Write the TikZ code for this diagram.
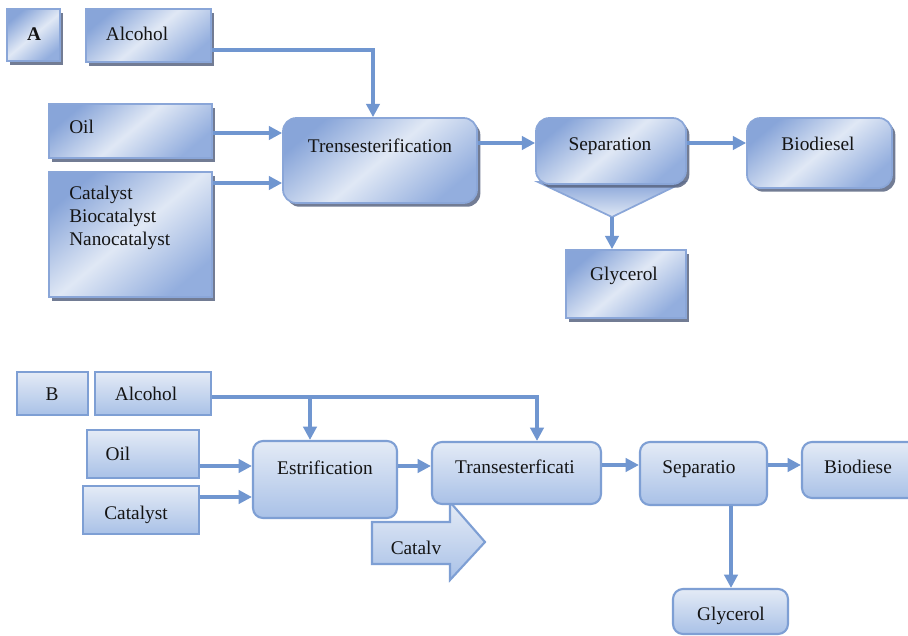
\documentclass[tikz,border=0pt]{standalone}
\usepackage{fontspec}
\setmainfont{Liberation Serif}
\usetikzlibrary{arrows.meta,fit,shadows,calc}

\definecolor{flow}{HTML}{7096D0}
\definecolor{edgeA}{HTML}{8AA6D8}
\definecolor{edgeB}{HTML}{7E9FD4}
\definecolor{darkA}{HTML}{88A5D9}
\definecolor{darkA2}{HTML}{93AEDE}
\definecolor{lightA}{HTML}{E0E8F5}
\definecolor{shadowA}{HTML}{5A6682}
\definecolor{topB}{HTML}{E4EBF6}
\definecolor{botB}{HTML}{A9C1E7}
\definecolor{ink}{HTML}{141414}

\begin{document}
\begin{tikzpicture}[x=0.75pt,y=-0.75pt,
  txt/.style={font=\fontsize{14.5}{17.25}\selectfont, text=ink, inner sep=0pt,
              text height=9.6pt, text depth=0pt},
  txtml/.style={font=\fontsize{14.5}{17.25}\selectfont, text=ink, inner sep=0pt, align=left},
  boxa/.style={draw=edgeA, line width=1.3pt, inner sep=0pt,
               top color=darkA, bottom color=darkA2, middle color=lightA, shading angle=40,
               drop shadow={shadow xshift=2.5pt, shadow yshift=-2.8pt, fill=shadowA, opacity=0.85}},
  roundA/.style={boxa, rounded corners=10pt},
  boxb/.style={draw=edgeB, line width=1.6pt, inner sep=0pt, top color=topB, bottom color=botB},
  roundB/.style={boxb, rounded corners=7.5pt},
  arr/.style={draw=flow, line width=2.4pt, -{Triangle[length=10pt,width=10pt]}}
]
\useasboundingbox (0,0) rectangle (908,636);
\fill[white] (0,0) rectangle (908,636);
\clip (0,0) rectangle (908,636);

% ---------------- Scheme A: direct transesterification ----------------
\node[boxa, fit={(7,9) (60,61)}] (labA) {};
\node[txt, font=\fontsize{14.5}{17.25}\selectfont\bfseries] (labAt) at (34,34) {A};

\node[boxa, fit={(86,9) (211,62)}] (alcA) {};
\node[txt] (alcAt) at (137,34) {Alcohol};

\node[boxa, fit={(49,104) (212,158)}] (oilA) {};
\node[txt, anchor=west] (oilAt) at (69,127) {Oil};

\node[boxa, fit={(49,172) (212,297)}] (catA) {};
\node[txtml, anchor=west] (catAt) at (69,218) {Catalyst\\Biocatalyst\\Nanocatalyst};

\node[roundA, fit={(283,118) (477,203)}] (trA) {};
\node[txt] (trAt) at (380,146) {Trensesterification};

% separator with its funnel outlet
\coordinate (funL) at (538,182);
\coordinate (funR) at (684,182);
\coordinate (funTip) at (612,217);
\path[draw=edgeA, line width=1.3pt, top color=darkA, bottom color=lightA]
  (funL) -- (funR) -- (funTip) -- cycle;
\node[roundA, fit={(536,118) (686,184)}] (sepA) {};
\node[txt] (sepAt) at (610,144) {Separation};

\node[roundA, fit={(747,118) (892,188)}] (bioA) {};
\node[txt] (bioAt) at (818,144) {Biodiesel};

\node[boxa, fit={(566,250) (686,318)}] (glyA) {};
\node[txt] (glyAt) at (624,274) {Glycerol};

\coordinate (alcAbend) at (373,50);
\coordinate (oilAy) at (0,133);
\coordinate (catAy) at (0,183);
\coordinate (mainAy) at (0,143);
\draw[arr] (alcA.east |- alcAbend) -| (trA.north -| alcAbend);
\draw[arr] (oilA.east |- oilAy) -- (trA.west |- oilAy);
\draw[arr] (catA.east |- catAy) -- (trA.west |- catAy);
\draw[arr] (trA.east |- mainAy) -- (sepA.west |- mainAy);
\draw[arr] (sepA.east |- mainAy) -- (bioA.west |- mainAy);
\draw[arr] (funTip) -- (glyA.north -| funTip);

% ---------------- Scheme B: two-step process ----------------
\node[boxb, fit={(17,372) (88,415)}] (labB) {};
\node[txt] (labBt) at (52,394) {B};

\node[boxb, fit={(95,372) (211,415)}] (alcB) {};
\node[txt] (alcBt) at (146,394) {Alcohol};

\node[boxb, fit={(87,430) (199,478)}] (oilB) {};
\node[txt] (oilBt) at (118,454) {Oil};

\node[boxb, fit={(83,486) (199,534)}] (catB) {};
\node[txt] (catBt) at (136,513) {Catalyst};

\node[roundB, fit={(253,441) (397,518)}] (esB) {};
\node[txt] (esBt) at (325,468) {Estrification};

% catalyst feed arrow under the transesterification unit
\path[draw=edgeB, line width=1.6pt, top color=topB, bottom color=botB]
  (372,522) -- (450,522) -- (450,502) -- (485,542) -- (450,580) -- (450,564) -- (372,564) -- cycle;
\node[txt] (catvB) at (416,548) {Catalv};

\node[roundB, fit={(432,442) (601,504)}] (trB) {};
\node[txt] (trBt) at (515,467) {Transesterficati};

\node[roundB, fit={(640,442) (767,505)}] (sepB) {};
\node[txt] (sepBt) at (699,467) {Separatio};

\node[roundB, fit={(802,442) (918,498)}] (bioB) {};
\node[txt] (bioBt) at (858,467) {Biodiese};

\node[roundB, fit={(673,589) (788,634)}] (glyB) {};
\node[txt] (glyBt) at (731,614) {Glycerol};

\coordinate (alcBfork) at (310,397);
\coordinate (alcBbend) at (537,397);
\coordinate (oilBy) at (0,466);
\coordinate (catBy) at (0,497);
\coordinate (mainBy) at (0,465);
\coordinate (sepBx) at (731,0);
\draw[arr] (alcB.east |- alcBbend) -| (trB.north -| alcBbend);
\draw[arr] (alcBfork) -- (esB.north -| alcBfork);
\draw[arr] (oilB.east |- oilBy) -- (esB.west |- oilBy);
\draw[arr] (catB.east |- catBy) -- (esB.west |- catBy);
\draw[arr] (esB.east |- oilBy) -- (trB.west |- oilBy);
\draw[arr] (trB.east |- mainBy) -- (sepB.west |- mainBy);
\draw[arr] (sepB.east |- mainBy) -- (bioB.west |- mainBy);
\draw[arr] (sepB.south -| sepBx) -- (glyB.north -| sepBx);
\end{tikzpicture}
\end{document}
